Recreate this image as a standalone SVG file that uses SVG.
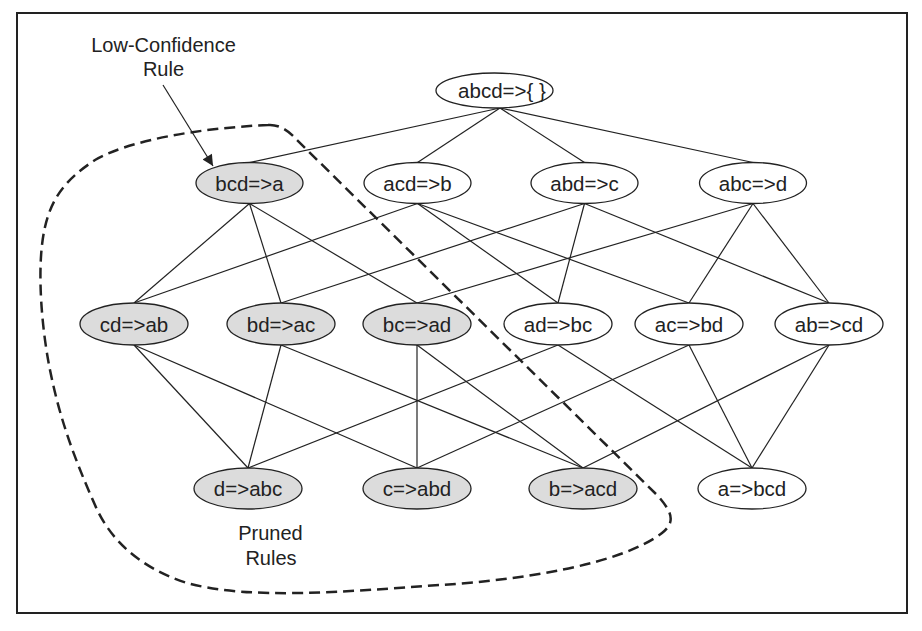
<svg xmlns="http://www.w3.org/2000/svg" width="922" height="631" viewBox="0 0 922 631">
<style>
  .n ellipse{fill:#ffffff;stroke:#222;stroke-width:1.3}
  .p ellipse{fill:#dcdcdc}
  text{font-family:"Liberation Sans",Arial,sans-serif;font-size:20.5px;fill:#222;text-anchor:middle}
  .lbl{font-size:20px}
  #edges line{stroke:#222;stroke-width:1.2}
</style>
<defs>
  <marker id="ah" viewBox="0 0 10 10" refX="10" refY="5" markerWidth="16" markerHeight="11" markerUnits="userSpaceOnUse" orient="auto">
    <path d="M0,0 L10,5 L0,10 Z" fill="#222"/>
  </marker>
</defs>
<rect x="17" y="13" width="890" height="600" fill="#fff" stroke="#222" stroke-width="2"/>

<g id="edges">
  <line x1="500" y1="108" x2="249.5" y2="162.5"/>
  <line x1="500" y1="108" x2="417.5" y2="162.5"/>
  <line x1="500" y1="108" x2="584.5" y2="162.5"/>
  <line x1="500" y1="108" x2="753" y2="162.5"/>

  <line x1="249.5" y1="203.5" x2="134" y2="303"/>
  <line x1="249.5" y1="203.5" x2="281" y2="303"/>
  <line x1="249.5" y1="203.5" x2="417" y2="303"/>
  <line x1="417.5" y1="203.5" x2="134" y2="303"/>
  <line x1="417.5" y1="203.5" x2="558" y2="303"/>
  <line x1="417.5" y1="203.5" x2="689" y2="303"/>
  <line x1="584.5" y1="203.5" x2="281" y2="303"/>
  <line x1="584.5" y1="203.5" x2="558" y2="303"/>
  <line x1="584.5" y1="203.5" x2="829" y2="303"/>
  <line x1="753" y1="203.5" x2="417" y2="303"/>
  <line x1="753" y1="203.5" x2="689" y2="303"/>
  <line x1="753" y1="203.5" x2="829" y2="303"/>

  <line x1="134" y1="345" x2="248" y2="468"/>
  <line x1="134" y1="345" x2="417" y2="468"/>
  <line x1="281" y1="345" x2="248" y2="468"/>
  <line x1="281" y1="345" x2="583" y2="468"/>
  <line x1="417" y1="345" x2="417" y2="468"/>
  <line x1="417" y1="345" x2="583" y2="468"/>
  <line x1="558" y1="345" x2="248" y2="468"/>
  <line x1="558" y1="345" x2="752" y2="468"/>
  <line x1="689" y1="345" x2="417" y2="468"/>
  <line x1="689" y1="345" x2="752" y2="468"/>
  <line x1="829" y1="345" x2="583" y2="468"/>
  <line x1="829" y1="345" x2="752" y2="468"/>

  <line x1="163" y1="85" x2="213" y2="166" marker-end="url(#ah)"/>
</g>

<path id="pruned-region" d="M268,125 C280,124 290,132 297,140 L658,496 C672,512 676,522 662,533 C620,565 520,580 440,585 C340,592 250,600 187,583 C140,568 110,540 95,505 C75,460 60,420 50,370 C42,330 38,280 42,245 C47,200 65,180 95,160 C130,140 200,128 268,125 Z" fill="none" stroke="#222" stroke-width="2.5" stroke-dasharray="11,6"/>

<g id="n-abcd" class="n"><ellipse cx="494.5" cy="90.5" rx="58.5" ry="17.5"/><text x="502" y="98">abcd=&gt;{ }</text></g>

<g id="n-bcd" class="n p"><ellipse cx="249.5" cy="183" rx="53.5" ry="20.5"/><text x="249.5" y="190.5">bcd=&gt;a</text></g>
<g id="n-acd" class="n"><ellipse cx="417.5" cy="183" rx="53.5" ry="20.5"/><text x="417.5" y="190.5">acd=&gt;b</text></g>
<g id="n-abd" class="n"><ellipse cx="584.5" cy="183" rx="53.5" ry="20.5"/><text x="584.5" y="190.5">abd=&gt;c</text></g>
<g id="n-abc" class="n"><ellipse cx="753" cy="183" rx="53.5" ry="20.5"/><text x="753" y="190.5">abc=&gt;d</text></g>

<g id="n-cd" class="n p"><ellipse cx="134" cy="324" rx="54" ry="21"/><text x="134" y="331.5">cd=&gt;ab</text></g>
<g id="n-bd" class="n p"><ellipse cx="281" cy="324" rx="54" ry="21"/><text x="281" y="331.5">bd=&gt;ac</text></g>
<g id="n-bc" class="n p"><ellipse cx="417" cy="324" rx="54" ry="21"/><text x="417" y="331.5">bc=&gt;ad</text></g>
<g id="n-ad" class="n"><ellipse cx="558" cy="324" rx="54" ry="21"/><text x="558" y="331.5">ad=&gt;bc</text></g>
<g id="n-ac" class="n"><ellipse cx="689" cy="324" rx="54" ry="21"/><text x="689" y="331.5">ac=&gt;bd</text></g>
<g id="n-ab" class="n"><ellipse cx="829" cy="324" rx="54" ry="21"/><text x="829" y="331.5">ab=&gt;cd</text></g>

<g id="n-d" class="n p"><ellipse cx="248" cy="488.5" rx="54" ry="20.5"/><text x="248" y="496">d=&gt;abc</text></g>
<g id="n-c" class="n p"><ellipse cx="417" cy="488.5" rx="54" ry="20.5"/><text x="417" y="496">c=&gt;abd</text></g>
<g id="n-b" class="n p"><ellipse cx="583" cy="488.5" rx="54" ry="20.5"/><text x="583" y="496">b=&gt;acd</text></g>
<g id="n-a" class="n"><ellipse cx="752" cy="488.5" rx="54" ry="20.5"/><text x="752" y="496">a=&gt;bcd</text></g>

<g id="label-low">
  <text class="lbl" x="163.5" y="52">Low-Confidence</text>
  <text class="lbl" x="163.5" y="76">Rule</text>
</g>
<g id="label-pruned">
  <text class="lbl" x="270.5" y="540">Pruned</text>
  <text class="lbl" x="271" y="565">Rules</text>
</g>
</svg>
